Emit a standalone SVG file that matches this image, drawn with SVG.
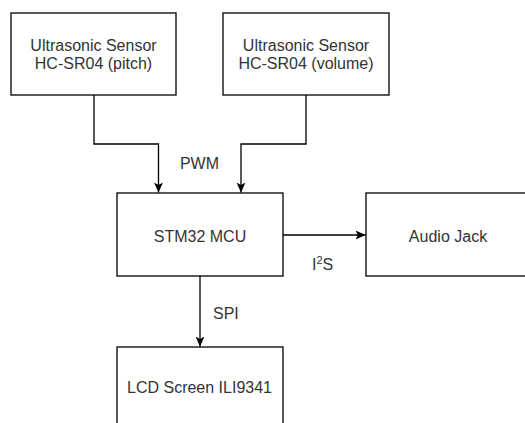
<svg xmlns="http://www.w3.org/2000/svg" width="525" height="423" viewBox="0 0 525 423">
<style>
.box{fill:#fff;stroke:#000;stroke-width:1.3}
.t{font-family:"Liberation Sans",Arial,sans-serif;font-size:16px;fill:#333;text-anchor:middle}
.lbl{font-family:"Liberation Sans",Arial,sans-serif;font-size:16px;fill:#333}
.c{fill:none;stroke:#000;stroke-width:1.3}
</style>
<defs>
<marker id="arr" markerUnits="userSpaceOnUse" markerWidth="10" markerHeight="10" viewBox="0 0 10 10" refX="10" refY="5" orient="auto">
<path d="M0,0.5 L10,5 L0,9.5 L2.5,5 z" fill="#000"/>
</marker>
</defs>
<rect width="525" height="423" fill="#fff"/>
<g id="connectors">
<path class="c" d="M94,95 V144 H158.5 V192.5" marker-end="url(#arr)"/>
<path class="c" d="M306,95 V144 H241 V192.5" marker-end="url(#arr)"/>
<path class="c" d="M283,235 H365.5" marker-end="url(#arr)"/>
<path class="c" d="M200,276 V346.5" marker-end="url(#arr)"/>
<text class="lbl" x="199.5" y="169" text-anchor="middle">PWM</text>
<text class="lbl" x="312" y="270">I<tspan font-size="11" dy="-6">2</tspan><tspan dy="6">S</tspan></text>
<text class="lbl" x="213" y="319">SPI</text>
</g>
<g id="sensor-pitch">
<rect class="box" x="11" y="13" width="165" height="82"/>
<text class="t" x="93.5" y="50.5">Ultrasonic Sensor</text>
<text class="t" x="93.5" y="69">HC-SR04 (pitch)</text>
</g>
<g id="sensor-volume">
<rect class="box" x="223" y="13" width="166" height="82"/>
<text class="t" x="306" y="50.5">Ultrasonic Sensor</text>
<text class="t" x="306" y="69">HC-SR04 (volume)</text>
</g>
<g id="mcu">
<rect class="box" x="117" y="193" width="166" height="83"/>
<text class="t" x="200" y="241.5">STM32 MCU</text>
</g>
<g id="audio-jack">
<rect class="box" x="366" y="193" width="170" height="83"/>
<text class="t" x="448" y="241.5">Audio Jack</text>
</g>
<g id="lcd">
<rect class="box" x="117" y="347" width="166" height="83"/>
<text class="t" x="199.5" y="393">LCD Screen ILI9341</text>
</g>
</svg>
